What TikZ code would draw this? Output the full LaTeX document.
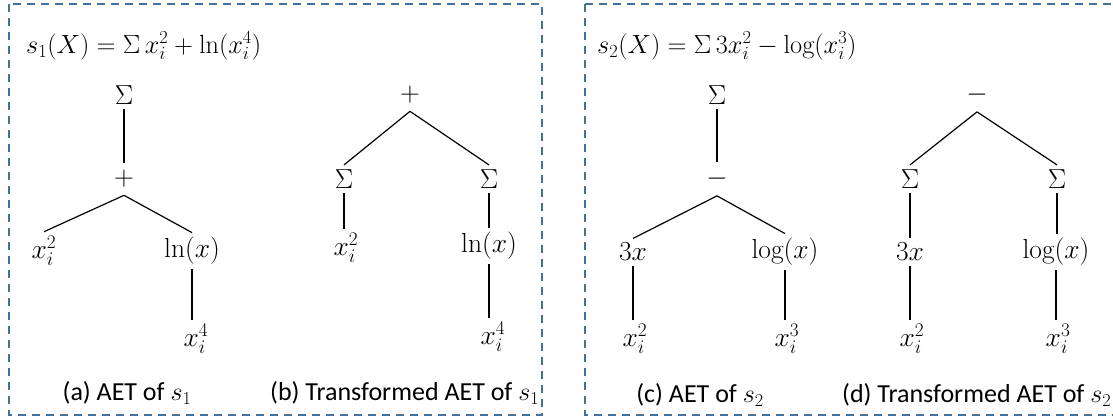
\RequirePackage{fix-cm}
\documentclass[tikz,border=0pt]{standalone}
\usepackage{fontspec}
\newfontfamily\capfont{Carlito}
\definecolor{boxblue}{HTML}{41719C}
\begin{document}
\begin{tikzpicture}[x=1pt,y=-1pt,
  lbl/.style={font=\fontsize{27.5}{33}\selectfont, inner sep=4.5pt},
  opnode/.style={lbl, inner ysep=7.5pt},
  captext/.style={font=\capfont\fontsize{26}{31}\selectfont, inner sep=0pt},
  ttl/.style={font=\fontsize{26.3}{32}\selectfont, inner sep=0pt, anchor=west},
  panel/.style={draw=boxblue, line width=2pt, dash pattern=on 8pt off 6pt},
  edge/.style={line width=1.2pt}]
\useasboundingbox (0,0) rectangle (1113,418);
\begin{scope}
\clip (0,0) rectangle (1113,418);
\draw[panel] (9,4) rectangle (542,415);
\draw[panel] (585,4) rectangle (1130,415);
\end{scope}
% titles
\node[ttl] (t1) at (26,46) {$s_1(X) = \Sigma\, x_i^2 + \ln\bigl(x_i^4\bigr)$};
\node[ttl] (t2) at (597,46) {$s_2(X) = \Sigma\, 3x_i^2 - \log\bigl(x_i^3\bigr)$};
% tree (a)
\node[lbl] (a1) at (124,95) {$\Sigma$};
\node[opnode] (a2) at (124,179) {$+$};
\node[lbl] (a3) at (44,251) {$x_i^2$};
\node[lbl] (a4) at (192,251) {$\ln(x)$};
\node[lbl] (a5) at (196,339) {$x_i^4$};
\draw[edge] (a1.south) -- (a2.north);
\draw[edge] (a2.south) -- (a3.north);
\draw[edge] (a2.south) -- (a4.north);
\draw[edge] (a4.south) -- (a4.south |- a5.north);
% tree (b)
\node[opnode] (b1) at (410,95) {$+$};
\node[lbl] (b2) at (344,179) {$\Sigma$};
\node[lbl] (b3) at (489,179) {$\Sigma$};
\node[lbl] (b4) at (346,248) {$x_i^2$};
\node[lbl] (b5) at (489,246) {$\ln(x)$};
\node[lbl] (b6) at (493,337) {$x_i^4$};
\draw[edge] (b1.south) -- (b2.north);
\draw[edge] (b1.south) -- (b3.north);
\draw[edge] (b2.south) -- (b2.south |- b4.north);
\draw[edge] (b3.south) -- (b3.south |- b5.north);
\draw[edge] (b5.south) -- (b5.south |- b6.north);
% tree (c)
\node[lbl] (c1) at (717,95) {$\Sigma$};
\node[opnode] (c2) at (717,179) {$-$};
\node[lbl] (c3) at (633,252) {$3x$};
\node[lbl] (c4) at (785,252) {$\log(x)$};
\node[lbl] (c5) at (635,339) {$x_i^2$};
\node[lbl] (c6) at (787,339) {$x_i^3$};
\draw[edge] (c1.south) -- (c2.north);
\draw[edge] (c2.south) -- (c3.north);
\draw[edge] (c2.south) -- (c4.north);
\draw[edge] (c3.south) -- (c3.south |- c5.north);
\draw[edge] (c4.south) -- (c4.south |- c6.north);
% tree (d)
\node[opnode] (d1) at (977,95) {$-$};
\node[lbl] (d2) at (910,179) {$\Sigma$};
\node[lbl] (d3) at (1057,179) {$\Sigma$};
\node[lbl] (d4) at (910,252) {$3x$};
\node[lbl] (d5) at (1056,252) {$\log(x)$};
\node[lbl] (d6) at (912,339) {$x_i^2$};
\node[lbl] (d7) at (1058,339) {$x_i^3$};
\draw[edge] (d1.south) -- (d2.north);
\draw[edge] (d1.south) -- (d3.north);
\draw[edge] (d2.south) -- (d2.south |- d4.north);
\draw[edge] (d3.south) -- (d3.south |- d5.north);
\draw[edge] (d4.south) -- (d4.south |- d6.north);
\draw[edge] (d5.south) -- (d5.south |- d7.north);
% captions
\node[captext] (ca) at (127,393) {(a) AET of $s_1$};
\node[captext, anchor=west] (cb) at (270,393) {(b) Transformed AET of $s_1$};
\node[captext] (cc) at (700,395) {(c) AET of $s_2$};
\node[captext, anchor=west] (cd) at (842,395) {(d) Transformed AET of $s_2$};
\end{tikzpicture}
\end{document}
